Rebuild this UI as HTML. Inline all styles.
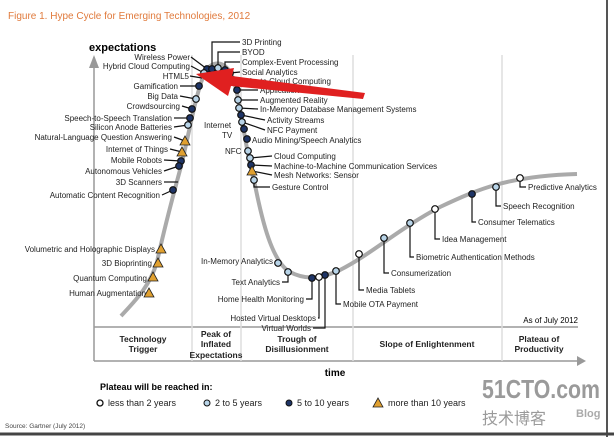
<!DOCTYPE html>
<html><head><meta charset="utf-8"><style>
html,body{margin:0;padding:0;background:#fff;}
svg{display:block;font-family:"Liberation Sans",Arial,sans-serif;}
</style></head><body>
<svg width="614" height="437" viewBox="0 0 614 437" xmlns="http://www.w3.org/2000/svg">
<rect width="614" height="437" fill="#fff"/>
<line x1="607" y1="0" x2="607" y2="437" stroke="#555" stroke-width="2"/>
<line x1="0" y1="434" x2="614" y2="434" stroke="#444" stroke-width="3"/>
<text x="8" y="19" font-size="10" fill="#e07a3c">Figure 1. Hype Cycle for Emerging Technologies, 2012</text>
<line x1="94" y1="64" x2="94" y2="361" stroke="#999" stroke-width="1.5"/>
<polygon points="89,68 94,55 99,68" fill="#999"/>
<text x="89" y="51" font-size="11" font-weight="bold">expectations</text>
<line x1="94" y1="327" x2="578" y2="327" stroke="#999" stroke-width="1.5"/>
<line x1="94" y1="361" x2="578" y2="361" stroke="#999" stroke-width="1.5"/>
<polygon points="577,356 586,361 577,366" fill="#999"/>
<g stroke="#ddd" stroke-width="1.5">
<line x1="192" y1="55" x2="192" y2="361"/><line x1="241" y1="55" x2="241" y2="361"/>
<line x1="353" y1="55" x2="353" y2="361"/><line x1="502" y1="55" x2="502" y2="361"/>
</g>
<text x="578" y="323" font-size="8" text-anchor="end">As of July 2012</text>
<g font-size="8.5" font-weight="bold" text-anchor="middle" fill="#222">
<text x="143" y="342">Technology</text><text x="143" y="352">Trigger</text>
<text x="216" y="337">Peak of</text><text x="216" y="347">Inflated</text><text x="216" y="358">Expectations</text>
<text x="297" y="342">Trough of</text><text x="297" y="352">Disillusionment</text>
<text x="427" y="347">Slope of Enlightenment</text>
<text x="539" y="342">Plateau of</text><text x="539" y="352">Productivity</text>
</g>
<text x="335" y="376" font-size="10" font-weight="bold" text-anchor="middle">time</text>
<path d="M121,316 C138,298 150,285 157,262 C165,225 172,200 180,170 C188,140 195,95 205,72 C212,60 225,60 232,76 C240,95 245,150 255,185 C262,220 272,262 290,272 C305,280 320,279 340,270 C370,255 400,228 440,207 C480,188 510,176 577,174" fill="none" stroke="#aaa" stroke-width="4"/>
<g font-size="8" text-anchor="end" fill="#222">
<text x="190" y="60">Wireless Power</text>
<text x="190" y="69">Hybrid Cloud Computing</text>
<text x="189" y="79">HTML5</text>
<text x="178" y="89">Gamification</text>
<text x="178" y="99">Big Data</text>
<text x="180" y="109">Crowdsourcing</text>
<text x="172" y="121">Speech-to-Speech Translation</text>
<text x="172" y="130">Silicon Anode Batteries</text>
<text x="172" y="140">Natural-Language Question Answering</text>
<text x="168" y="152">Internet of Things</text>
<text x="162" y="163">Mobile Robots</text>
<text x="162" y="174">Autonomous Vehicles</text>
<text x="162" y="185">3D Scanners</text>
<text x="160" y="198">Automatic Content Recognition</text>
<text x="155" y="252">Volumetric and Holographic Displays</text>
<text x="152" y="266">3D Bioprinting</text>
<text x="147" y="281">Quantum Computing</text>
<text x="146" y="296">Human Augmentation</text>
<text x="273" y="264">In-Memory Analytics</text>
<text x="280" y="285">Text Analytics</text>
<text x="304" y="302">Home Health Monitoring</text>
<text x="316" y="321">Hosted Virtual Desktops</text>
<text x="311" y="331">Virtual Worlds</text>
</g>
<g font-size="8" fill="#222">
<text x="242" y="45">3D Printing</text>
<text x="242" y="55">BYOD</text>
<text x="242" y="65">Complex-Event Processing</text>
<text x="242" y="75">Social Analytics</text>
<text x="242" y="84">Private Cloud Computing</text>
<text x="260" y="93">Application Stores</text>
<text x="260" y="103">Augmented Reality</text>
<text x="260" y="112">In-Memory Database Management Systems</text>
<text x="267" y="123">Activity Streams</text>
<text x="267" y="133">NFC Payment</text>
<text x="252" y="143">Audio Mining/Speech Analytics</text>
<text x="204" y="128">Internet</text>
<text x="222" y="138">TV</text>
<text x="225" y="154">NFC</text>
<text x="274" y="159">Cloud Computing</text>
<text x="274" y="169">Machine-to-Machine Communication Services</text>
<text x="274" y="178">Mesh Networks: Sensor</text>
<text x="272" y="190">Gesture Control</text>
<text x="528" y="190">Predictive Analytics</text>
<text x="503" y="209">Speech Recognition</text>
<text x="478" y="225">Consumer Telematics</text>
<text x="442" y="242">Idea Management</text>
<text x="416" y="260">Biometric Authentication Methods</text>
<text x="391" y="276">Consumerization</text>
<text x="366" y="293">Media Tablets</text>
<text x="343" y="307">Mobile OTA Payment</text>
</g>
<g stroke="#111" stroke-width="1.2" fill="none">
<path d="M191,57 L207,69"/><path d="M191,66 L204,73"/><path d="M190,76 L202,78"/>
<path d="M180,86 L199,86"/><path d="M180,96 L196,99"/><path d="M182,106 L192,109"/>
<path d="M174,118 L190,118"/><path d="M174,127 L188,125"/><path d="M174,137 L185,141"/>
<path d="M170,149 L182,152"/><path d="M164,160 L181,161"/><path d="M164,171 L179,166"/><path d="M164,182 L178,182"/><path d="M162,195 L173,190"/>
<path d="M212,69 L212,42 L240,42"/><path d="M218,68 L218,52 L240,52"/><path d="M225,70 L225,62 L240,62"/><path d="M230,73 L240,72"/>
<path d="M237,90 L258,90"/><path d="M238,100 L258,100"/><path d="M239,108 L258,109"/><path d="M241,115 L265,120"/><path d="M242,122 L265,130"/>
<path d="M250,158 L272,156"/><path d="M251,165 L272,166"/><path d="M252,171 L272,175"/><path d="M254,180 L254,187 L270,187"/>
<path d="M520,178 L520,187 L526,187"/><path d="M496,187 L496,206 L501,206"/><path d="M472,194 L472,222 L476,222"/>
<path d="M435,209 L435,239 L440,239"/><path d="M410,223 L410,257 L414,257"/><path d="M384,238 L384,273 L389,273"/>
<path d="M359,254 L359,290 L364,290"/><path d="M336,271 L336,304 L341,304"/>
<path d="M288,272 L288,282 L282,282"/><path d="M312,278 L312,299 L306,299"/><path d="M319,277 L319,318 L318,318"/><path d="M325,275 L325,328 L313,328"/>
</g>
<g stroke="#111" stroke-width="1.2">
<g fill="#1e3466">
<circle cx="207" cy="69" r="3.3"/><circle cx="212" cy="69" r="3.3"/><circle cx="199" cy="86" r="3.3"/><circle cx="192" cy="109" r="3.3"/><circle cx="190" cy="118" r="3.3"/><circle cx="181" cy="161" r="3.3"/><circle cx="179" cy="166" r="3.3"/><circle cx="173" cy="190" r="3.3"/>
<circle cx="237" cy="90" r="3.3"/><circle cx="241" cy="115" r="3.3"/><circle cx="244" cy="129" r="3.3"/><circle cx="247" cy="139" r="3.3"/><circle cx="251" cy="165" r="3.3"/>
<circle cx="312" cy="278" r="3.3"/><circle cx="325" cy="275" r="3.3"/><circle cx="472" cy="194" r="3.3"/><circle cx="225" cy="70" r="3.3"/>
</g>
<g fill="#b8d4e8">
<circle cx="204" cy="73" r="3.3"/><circle cx="196" cy="99" r="3.3"/><circle cx="188" cy="125" r="3.3"/><circle cx="218" cy="68" r="3.3"/><circle cx="230" cy="73" r="3.3"/><circle cx="233" cy="80" r="3.3"/>
<circle cx="238" cy="100" r="3.3"/><circle cx="239" cy="108" r="3.3"/><circle cx="242" cy="122" r="3.3"/><circle cx="248" cy="151" r="3.3"/><circle cx="250" cy="158" r="3.3"/><circle cx="254" cy="180" r="3.3"/>
<circle cx="278" cy="263" r="3.3"/><circle cx="288" cy="272" r="3.3"/><circle cx="336" cy="271" r="3.3"/><circle cx="384" cy="238" r="3.3"/><circle cx="410" cy="223" r="3.3"/><circle cx="496" cy="187" r="3.3"/>
</g>
<g fill="#fff">
<circle cx="319" cy="277" r="3.3"/><circle cx="359" cy="254" r="3.3"/><circle cx="435" cy="209" r="3.3"/><circle cx="520" cy="178" r="3.3"/>
</g>
<g fill="#e0a030" stroke="#222" stroke-width="0.8">
<polygon points="185,136 190,145 180,145"/><polygon points="182,147 187,156 177,156"/><polygon points="252,166 257,175 247,175"/>
<polygon points="161,244 166,253 156,253"/><polygon points="158,258 163,267 153,267"/><polygon points="153,272 158,281 148,281"/><polygon points="149,288 154,297 144,297"/>
</g>
</g>
<polygon points="365,93 232,76 234,68 196,74 228,96 231,86 363,99" fill="#e02020"/>
<text x="100" y="390" font-size="9" font-weight="bold">Plateau will be reached in:</text>
<g font-size="9" fill="#222">
<circle cx="100" cy="403" r="3" fill="#fff" stroke="#111" stroke-width="1.3"/><text x="108" y="406">less than 2 years</text>
<circle cx="207" cy="403" r="3" fill="#b8d4e8" stroke="#111" stroke-width="1"/><text x="215" y="406">2 to 5 years</text>
<circle cx="289" cy="403" r="3" fill="#1e3466" stroke="#111" stroke-width="1"/><text x="297" y="406">5 to 10 years</text>
<polygon points="378,398 383,407 373,407" fill="#e0a030" stroke="#222" stroke-width="0.8"/><text x="388" y="406">more than 10 years</text>
</g>
<text x="5" y="428" font-size="6.5" fill="#444">Source: Gartner (July 2012)</text>
<text x="482" y="398" font-size="26" font-weight="bold" fill="#9a9a9a" textLength="118" lengthAdjust="spacingAndGlyphs">51CTO.com</text>
<text x="482" y="424" font-size="16" fill="#9a9a9a" font-family="Liberation Sans,'Noto Sans CJK SC',sans-serif">技术博客</text>
<text x="576" y="417" font-size="11" font-weight="bold" fill="#aaa">Blog</text>
</svg>
</body></html>
